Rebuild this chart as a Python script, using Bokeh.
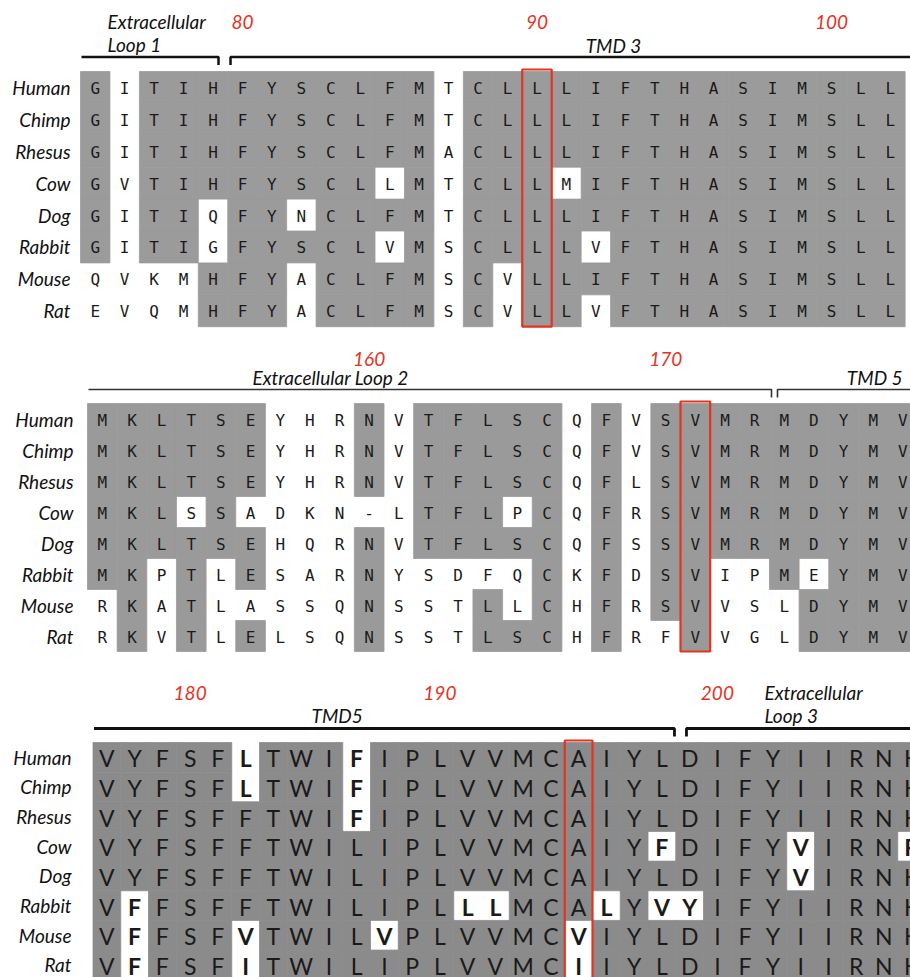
from bokeh.plotting import figure
from bokeh.models import ColumnDataSource, Range1d
from bokeh.core.properties import value
from bokeh.embed import file_html
from bokeh.resources import INLINE

# ---------------- data ----------------
species = ["Human", "Chimp", "Rhesus", "Cow", "Dog", "Rabbit", "Mouse", "Rat"]

seq_block1 = [
    "GITIHFYSCLFMTCLLLIFTHASIMSLL",
    "GITIHFYSCLFMTCLLLIFTHASIMSLL",
    "GITIHFYSCLFMACLLLIFTHASIMSLL",
    "GVTIHFYSCLLMTCLLMIFTHASIMSLL",
    "GITIQFYNCLFMTCLLLIFTHASIMSLL",
    "GITIGFYSCLVMSCLLLVFTHASIMSLL",
    "QVKMHFYACLFMSCVLLIFTHASIMSLL",
    "EVQMHFYACLFMSCVLLVFTHASIMSLL",
]
shade_block1 = [
    "#.##########.###############",
    "#.##########.###############",
    "#.##########.###############",
    "#.########.#.###.###########",
    "#.##.##.####.###############",
    "#.##.#####.#.####.##########",
    "....###.####.#.#############",
    "....###.####.#.##.##########",
]
ticks_block1 = [80, 90, 100]
tickcols_block1 = [5, 15, 25]
highlight_block1 = 15
regions_block1 = ["Extracellular\nLoop 1", "TMD 3"]

seq_block2 = [
    "MKLTSEYHRNVTFLSCQFVSVMRMDYMV",
    "MKLTSEYHRNVTFLSCQFVSVMRMDYMV",
    "MKLTSEYHRNVTFLSCQFLSVMRMDYMV",
    "MKLSSADKN-LTFLPCQFRSVMRMDYMV",
    "MKLTSEHQRNVTFLSCQFSSVMRMDYMV",
    "MKPTLESARNYSDFQCKFDSVIPMEYMV",
    "RKATLASSQNSSTLLCHFRSVVSLDYMV",
    "RKVTLELSQNSSTLSCHFRFVVGLDYMV",
]
shade_block2 = [
    "######...#.#####.#.#########",
    "######...#.#####.#.#########",
    "######...#.#####.#.#########",
    "###.#......###.#.#.#########",
    "######...#.#####.#.#########",
    "##.#.#...#.....#.#.##..#.###",
    ".#.#.....#...#.#.#.##...####",
    ".#.#.#...#...###.#..#...####",
]
ticks_block2 = [160, 170]
tickcols_block2 = [9, 19]
highlight_block2 = 20
regions_block2 = ["Extracellular Loop 2", "TMD 5"]

seq_block3 = [
    "VYFSFLTWIFIPLVVMCAIYLDIFYIIRNK",
    "VYFSFLTWIFIPLVVMCAIYLDIFYIIRNK",
    "VYFSFFTWIFIPLVVMCAIYLDIFYIIRNK",
    "VYFSFFTWILIPLVVMCAIYFDIFYVIRNR",
    "VYFSFFTWILIPLVVMCAIYLDIFYVIRNK",
    "VFFSFFTWILIPLLLMCALYVYIFYIIRNK",
    "VFFSFVTWILVPLVVMCVIYLDIFYIIRNK",
    "VFFSFITWILIPLVVMCIIYLDIFYIIRNK",
]
shade_block3 = [
    "#####.###.####################",
    "#####.###.####################",
    "#########.####################",
    "####################.####.###.",
    "#########################.####",
    "#.###########..###.#..########",
    "#.###.####.######.############",
    "#.###.###########.############",
]
ticks_block3 = [180, 190, 200]
tickcols_block3 = [3, 12, 22]
highlight_block3 = 17
regions_block3 = ["TMD5", "Extracellular\nLoop 3"]

# ---------------- layout (pixel geometry, not data) ----------------
W, H = 910, 977
p = figure(width=W, height=H, output_backend="svg", toolbar_location=None,
           x_range=Range1d(0, W), y_range=Range1d(H, 0),
           x_axis_location=None, y_axis_location=None, min_border=0,
           background_fill_color="white", border_fill_color="white")
p.outline_line_color = None
p.grid.visible = False

LABEL_FONT = value("Lato")
RED = "#e6331f"
LFS = "19px"

blocks = [
    dict(seq=seq_block1, shade=shade_block1, ticks=ticks_block1, tickcols=tickcols_block1,
         hl=highlight_block1, regions=regions_block1,
         x0=80, cw=29.45, y0=71, rh=31.9, gray="#9b9b9b",
         font="DejaVu Sans Mono", fsize="16px", bold_white=False, lab_right=70,
         num_y=21, bracket_y=56.5, split=4.89, gap=6, lw=2.5, bcolor="#111111",
         reg_pos=[(0.92, 21, "left"), (18.1, 45, "center")]),
    dict(seq=seq_block2, shade=shade_block2, ticks=ticks_block2, tickcols=tickcols_block2,
         hl=highlight_block2, regions=regions_block2,
         x0=87, cw=29.65, y0=403, rh=31.0, gray="#9a9a9a",
         font="DejaVu Sans Mono", fsize="16px", bold_white=False, lab_right=73,
         num_y=358, bracket_y=389, split=23.17, gap=3, lw=1.6, bcolor="#333333",
         reg_pos=[(8.2, 377, "center"), (26.55, 377, "center")]),
    dict(seq=seq_block3, shade=shade_block3, ticks=ticks_block3, tickcols=tickcols_block3,
         hl=highlight_block3, regions=regions_block3,
         x0=92.5, cw=27.75, y0=742, rh=29.65, gray="#8b8b8b",
         font="Lato", fsize="23px", bold_white=True, lab_right=71,
         num_y=692, bracket_y=728, split=21.17, gap=6, lw=2.8, bcolor="#111111",
         reg_pos=[(8.8, 715, "center"), (24.2, 692, "left")]),
]

for b in blocks:
    x0, cw, y0, rh = b["x0"], b["cw"], b["y0"], b["rh"]
    ncol = len(b["seq"][0])
    L, R, T, B = [], [], [], []
    tx, ty, tt, tw = [], [], [], []
    for r, (s, m) in enumerate(zip(b["seq"], b["shade"])):
        for c, (ch, sh) in enumerate(zip(s, m)):
            cx = x0 + (c + 0.5) * cw
            cy = y0 + (r + 0.5) * rh
            if sh == "#":
                L.append(x0 + c * cw); R.append(x0 + (c + 1) * cw)
                T.append(y0 + r * rh); B.append(y0 + (r + 1) * rh)
            tx.append(cx); ty.append(cy + 1); tt.append(ch)
            tw.append("bold" if (b["bold_white"] and sh == ".") else "normal")
    p.quad(left=L, right=R, top=T, bottom=B, fill_color=b["gray"],
           line_color=b["gray"], line_width=0.8)
    src = ColumnDataSource(dict(x=tx, y=ty, t=tt, w=tw))
    p.text(x="x", y="y", text="t", source=src, text_align="center", text_baseline="middle",
           text_font=value(b["font"]), text_font_size=b["fsize"], text_font_style="w",
           text_color="#1a1a1a")

    # highlight box
    hc = b["hl"]
    p.quad(left=[x0 + hc * cw], right=[x0 + (hc + 1) * cw], top=[y0 - 2],
           bottom=[y0 + len(b["seq"]) * rh], fill_color=None, line_color=RED, line_width=2.2)

    # species labels
    p.text(x=[b["lab_right"]] * len(species),
           y=[y0 + (r + 0.5) * rh for r in range(len(species))],
           text=species, text_align="right", text_baseline="middle",
           text_font=LABEL_FONT, text_font_style="italic", text_font_size=LFS,
           text_color="#111111")

    # residue numbers
    p.text(x=[x0 + (c + 0.5) * cw for c in b["tickcols"]], y=[b["num_y"]] * len(b["ticks"]),
           text=[str(t) for t in b["ticks"]], text_align="center", text_baseline="middle",
           text_font=LABEL_FONT, text_font_style="italic", text_font_size=LFS,
           text_color=RED)

    # brackets
    sx = x0 + b["split"] * cw
    by = b["bracket_y"]
    xs = [[x0 + 1, sx - b["gap"], sx - b["gap"]],
          [sx + b["gap"], sx + b["gap"], x0 + ncol * cw + 20]]
    ys = [[by, by, by + 8], [by + 8, by, by]]
    p.multi_line(xs=xs, ys=ys, line_color=b["bcolor"], line_width=b["lw"])

    # region labels
    for name, (cpos, yy, al) in zip(b["regions"], b["reg_pos"]):
        lines = name.split("\n")
        p.text(x=[x0 + cpos * cw] * len(lines), y=[yy + 23 * i for i in range(len(lines))],
               text=lines, text_align=al, text_baseline="middle",
               text_font=LABEL_FONT, text_font_style="italic", text_font_size=LFS,
               text_color="#111111")

open("out.html", "w").write(file_html(p, INLINE))
